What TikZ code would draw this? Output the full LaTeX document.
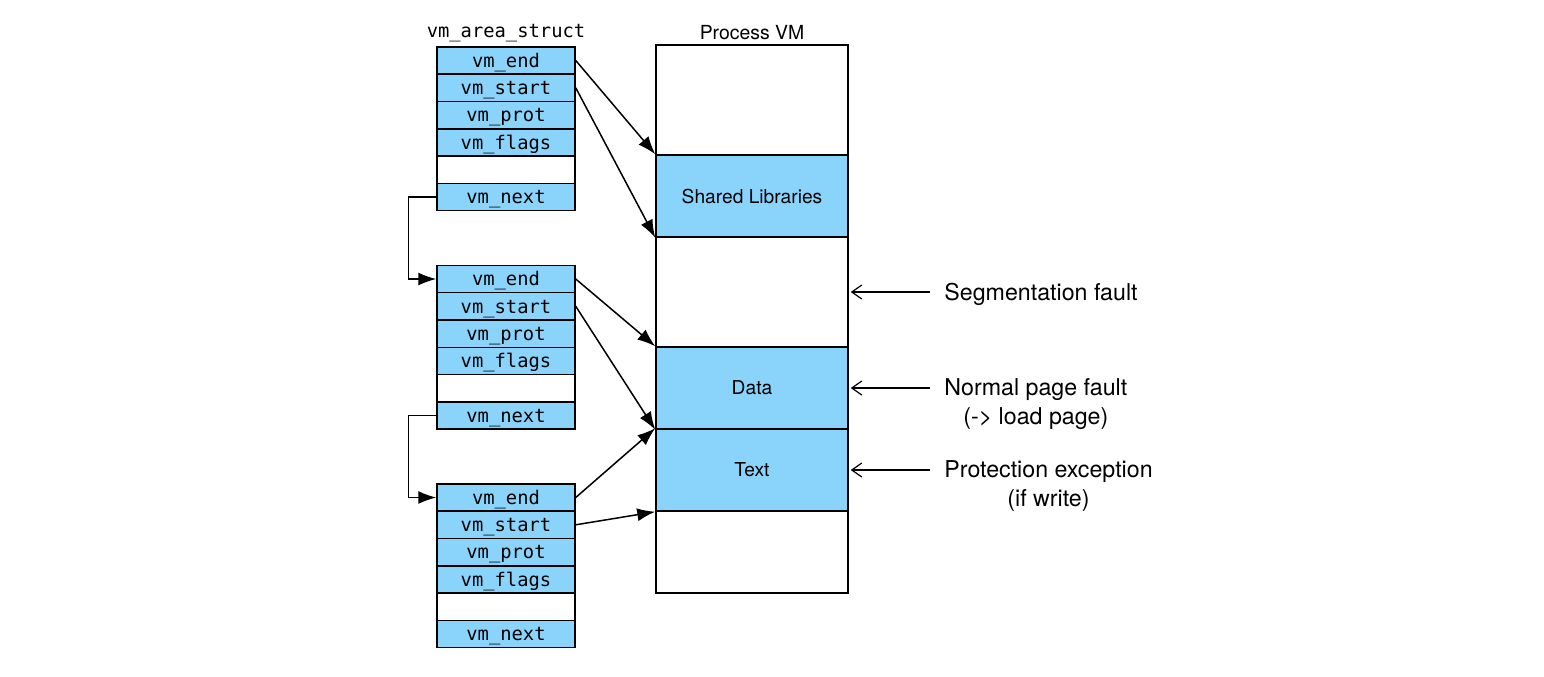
\documentclass[tikz,border=0pt]{standalone}
\usepackage{fontspec}
\setmainfont{TeX Gyre Heros}
\newfontfamily\monof{DejaVu Sans Mono}
\usetikzlibrary{arrows.meta}
\definecolor{vmblue}{RGB}{138,212,252}
\tikzset{
  fld/.style={draw, line width=0.75pt, fill=vmblue, minimum width=69pt, minimum height=13.65pt, inner sep=0pt, text height=7.6pt, text depth=0.9pt, font=\monof\fontsize{9.4}{11}\selectfont},
  emptyfld/.style={fld, fill=white},
  region/.style={draw, line width=0.75pt, minimum width=96pt, inner sep=0pt, font=\fontsize{9.6}{11}\selectfont},
  ptr/.style={line width=0.75pt, -{Latex[length=9pt,width=6.5pt]}},
  fault/.style={line width=0.6pt, -{Straight Barb[length=5pt,width=7pt]}},
  lbl/.style={font=\fontsize{11.6}{14.5}\selectfont, align=center, inner sep=0pt, anchor=west},
  hdr/.style={inner sep=0pt}
}
\begin{document}
\begin{tikzpicture}[x=0.5pt, y=-0.5pt]
\useasboundingbox (0,0) rectangle (1544,676);
% headers
\node[hdr, font=\monof\fontsize{9.4}{11}\selectfont] (h1) at (506,33) {vm\_area\_struct};
\node[hdr, font=\fontsize{9.7}{11}\selectfont] (h2) at (752,33) {Process VM};
% struct 1
\node[fld] (a1) at (506,60.5) {vm\_end};
\node[fld] (a2) at (506,87.8) {vm\_start};
\node[fld] (a3) at (506,115.1) {vm\_prot};
\node[fld] (a4) at (506,142.4) {vm\_flags};
\node[emptyfld] (a5) at (506,169.7) {};
\node[fld] (a6) at (506,197) {vm\_next};
% struct 2
\node[fld] (b1) at (506,279) {vm\_end};
\node[fld] (b2) at (506,306.3) {vm\_start};
\node[fld] (b3) at (506,333.6) {vm\_prot};
\node[fld] (b4) at (506,360.9) {vm\_flags};
\node[emptyfld] (b5) at (506,388.2) {};
\node[fld] (b6) at (506,415.5) {vm\_next};
% struct 3
\node[fld] (c1) at (506,497.5) {vm\_end};
\node[fld] (c2) at (506,524.8) {vm\_start};
\node[fld] (c3) at (506,552.1) {vm\_prot};
\node[fld] (c4) at (506,579.4) {vm\_flags};
\node[emptyfld] (c5) at (506,606.7) {};
\node[fld] (c6) at (506,634) {vm\_next};
% process VM
\node[region, minimum height=55pt] (top) at (752,100) {};
\node[region, minimum height=41pt, fill=vmblue] (shl) at (752,196) {Shared Libraries};
\node[region, minimum height=55pt] (gap) at (752,292) {};
\node[region, minimum height=41pt, fill=vmblue] (data) at (752,388) {Data};
\node[region, minimum height=41pt, fill=vmblue] (text) at (752,470) {Text};
\node[region, minimum height=41pt] (bot) at (752,552) {};
% next pointers
\draw[ptr] (a6.west) -- ++(-28,0) |- (b1.west);
\draw[ptr] (b6.west) -- ++(-28,0) |- (c1.west);
% range pointers
\draw[ptr] (a1.east) -- (shl.north west);
\draw[ptr] (a2.east) -- (shl.south west);
\draw[ptr] (b1.east) -- (data.north west);
\draw[ptr] (b2.east) -- (data.south west);
\draw[ptr] (c1.east) -- (text.north west);
\draw[ptr] (c2.east) -- (text.south west);
% fault labels
\node[lbl] (seg) at (944,294) {Segmentation fault};
\node[lbl] (npf) at (944,404) {Normal page fault\\(-> load page)};
\node[lbl] (pe) at (944,486) {Protection exception\\(if write)};
\draw[fault] ([xshift=-7pt]seg.west |- gap.east) -- ([xshift=1pt]gap.east);
\draw[fault] ([xshift=-7pt]npf.west |- data.east) -- ([xshift=1pt]data.east);
\draw[fault] ([xshift=-7pt]pe.west |- text.east) -- ([xshift=1pt]text.east);
\end{tikzpicture}
\end{document}
